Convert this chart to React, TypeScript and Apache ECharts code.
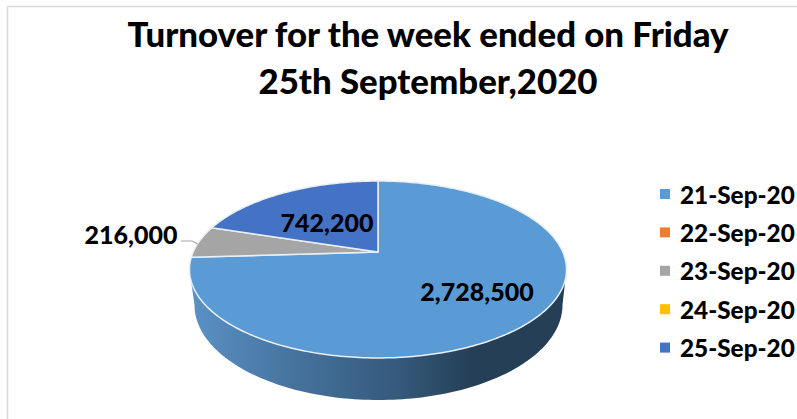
import React, { useEffect, useRef } from "react";
import * as echarts from "echarts";

const titleLines = ["Turnover for the week ended on Friday", "25th September,2020"];
const categories = ["21-Sep-20", "22-Sep-20", "23-Sep-20", "24-Sep-20", "25-Sep-20"];
const turnover = [2728500, 0, 216000, 0, 742200];
const colors = ["#5B9BD5", "#ED7D31", "#A5A5A5", "#FFC000", "#4472C4"];

// layout of the tilted pie: a unit disc seen in perspective
const PIE = { cx: 378, cy: 252, bx: 184.8, by: 85, p: 0.1977 };
const BASE = { cx: 378.5, cy: 305, rx: 184, ry: 95 };
const LABEL_POS: Record<number, [number, number]> = { 0: [477, 291], 2: [131, 234], 4: [327, 222] };
const FONT = "Lato, 'Open Sans', sans-serif";

function project(angle: number): [number, number] {
  const X = Math.sin(angle);
  const Y = Math.cos(angle);
  const w = 1 + PIE.p * Y;
  return [PIE.cx + (PIE.bx * X) / w, PIE.cy - (PIE.by * Y) / w];
}

function arc(a0: number, a1: number, steps: number): [number, number][] {
  const pts: [number, number][] = [];
  for (let i = 0; i <= steps; i++) pts.push(project(a0 + ((a1 - a0) * i) / steps));
  return pts;
}

function wallPoints(): [number, number][] {
  // front half of the rim, from the right extreme to the left extreme
  const a0 = Math.PI / 2 + Math.asin(PIE.p);
  const a1 = (3 * Math.PI) / 2 - Math.asin(PIE.p);
  const pts = arc(a0, a1, 120);
  const steps = 120;
  for (let i = 0; i <= steps; i++) {
    const t = Math.PI - (Math.PI * i) / steps;
    pts.push([BASE.cx + BASE.rx * Math.cos(t), BASE.cy + BASE.ry * Math.sin(t)]);
  }
  return pts;
}

const total = turnover.reduce((a, b) => a + b, 0);
const slices = turnover.reduce<[number, number][]>((acc, v) => {
  const start = acc.length ? acc[acc.length - 1][1] : 0;
  acc.push([start, start + (v / total) * Math.PI * 2]);
  return acc;
}, []);

function makeSeries(index: number) {
  return {
    type: "custom",
    name: categories[index],
    coordinateSystem: "none",
    itemStyle: { color: colors[index] },
    silent: true,
    clip: false,
    data: [slices[index]],
    renderItem: (_params: any, api: any) => {
      const a0 = api.value(0);
      const a1 = api.value(1);
      if (a1 - a0 <= 0) return null;
      const children: any[] = [];
      if (index === 0) {
        children.push({
          type: "polygon",
          shape: { points: wallPoints() },
          style: {
            fill: new echarts.graphic.LinearGradient(0, 0, 1, 0, [
              { offset: 0, color: "#5A92C6" },
              { offset: 0.3, color: "#44709A" },
              { offset: 0.55, color: "#355A7C" },
              { offset: 0.75, color: "#253F56" },
              { offset: 1, color: "#253F56" },
            ]),
          },
        });
      }
      const steps = Math.max(8, Math.ceil((a1 - a0) * 60));
      children.push({
        type: "polygon",
        shape: { points: [[PIE.cx, PIE.cy], ...arc(a0, a1, steps)] },
        style: { fill: colors[index], stroke: "#E9EFF6", lineWidth: 1.5, lineJoin: "round" },
      });
      return { type: "group", children };
    },
    z: 2,
  };
}

// Value labels are drawn last so no slice covers them.
const labelSeries = {
  type: "custom",
  coordinateSystem: "none",
  silent: true,
  clip: false,
  z: 3,
  data: turnover.map((v, i) => [v, i]),
  renderItem: (_params: any, api: any) => {
    const v = api.value(0);
    const i = api.value(1);
    if (!v) return null;
    const [x, y] = LABEL_POS[i];
    const children: any[] = [
      {
        type: "text",
        x,
        y,
        style: {
          text: v.toLocaleString("en-US"),
          fontFamily: FONT,
          fontWeight: 900,
          fontSize: 25,
          fill: "#000",
          align: "center",
          verticalAlign: "middle",
        },
      },
    ];
    if (i === 2) {
      children.push({
        type: "polyline",
        shape: { points: [[181, 241], [192, 241], [198, 244]] },
        style: { stroke: "#A6A6A6", lineWidth: 1.2, fill: "none" },
      });
    }
    return { type: "group", children };
  },
};

export default function App() {
  const ref = useRef<HTMLDivElement>(null);
  useEffect(() => {
    document.body.style.margin = "0";
    const chart = echarts.init(ref.current!, undefined, { renderer: "svg" });
    chart.setOption({
      animation: false,
      backgroundColor: "#FFFFFF",
      title: {
        text: titleLines.join("\n"),
        left: 423,
        top: 5,
        textAlign: "center",
        textStyle: { fontFamily: FONT, fontWeight: 900, fontSize: 34.8, lineHeight: 47, color: "#000" },
      },
      legend: {
        orient: "vertical",
        left: 655,
        top: 176,
        padding: 5,
        itemWidth: 10,
        itemHeight: 10,
        itemGap: 12.4,
        selectedMode: false,
        data: categories.map((name, i) => ({
          name,
          icon: "rect",
          itemStyle: { color: colors[i] },
        })),
        textStyle: { fontFamily: FONT, fontWeight: 900, fontSize: 24.3, lineHeight: 26, color: "#000", padding: [0, 0, 0, 5] },
      },
      graphic: [
        { type: "line", silent: true, shape: { x1: 7.5, y1: 6.5, x2: 797, y2: 6.5 }, style: { stroke: "#D9D9D9", lineWidth: 1.5 } },
        { type: "line", silent: true, shape: { x1: 7.5, y1: 6.5, x2: 7.5, y2: 419 }, style: { stroke: "#D9D9D9", lineWidth: 1.5 } },
      ],
      series: [...categories.map((_c, i) => makeSeries(i)), labelSeries],
    });
    return () => chart.dispose();
  }, []);
  return <div ref={ref} style={{ position: "fixed", left: 0, top: 0, width: 797, height: 419, overflow: "hidden" }} />;
}
